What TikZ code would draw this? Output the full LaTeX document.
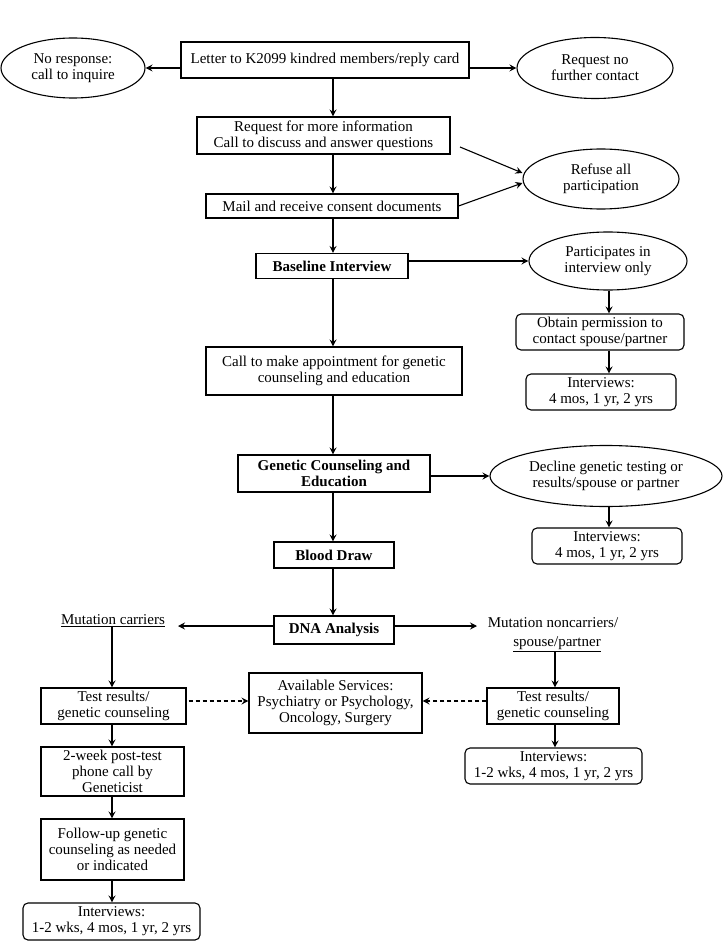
\documentclass[tikz,border=0pt]{standalone}
\usepackage{fontspec}
\setmainfont{Liberation Serif}
\usetikzlibrary{shapes.geometric,arrows.meta}
\begin{document}
\begin{tikzpicture}[x=1pt,y=-1pt,
  every node/.style={font=\fontsize{15}{16}\selectfont, align=center, inner sep=0pt},
  box/.style={draw, line width=1.1pt},
  rbox/.style={draw, line width=1.1pt, rounded corners=5pt},
  oval/.style={draw, ellipse, line width=1.1pt},
  lbl/.style={},
  arr/.style={line width=1.1pt, -{Stealth[length=7pt,width=7pt,inset=2.5pt]}},
  darr/.style={arr, dashed, dash pattern=on 4pt off 3pt}]
\useasboundingbox (0,0) rectangle (724,949);
\coordinate (spine) at (333,0);
\coordinate (leftx) at (112,0);
\coordinate (rightx) at (609,0);
\coordinate (rtx) at (555,0);
% top row
\node[box, minimum width=288pt, minimum height=36pt] (letter) at (325,60) {Letter to K2099 kindred members/reply card};
\node[oval, minimum width=144pt, minimum height=60pt] (noresp) at (73,68) {No response:\\call to inquire};
\node[oval, minimum width=156pt, minimum height=61pt] (nocontact) at (595,68) {Request no\\further contact};
% spine
\node[box, minimum width=253pt, minimum height=37pt] (req) at (323.5,135.5) {Request for more information\\Call to discuss and answer questions};
\node[oval, minimum width=156pt, minimum height=60pt] (refuse) at (601,179) {Refuse all\\participation};
\node[box, minimum width=252pt, minimum height=24pt] (mail) at (332,206) {Mail and receive consent documents};
\node[box, minimum width=152pt, minimum height=25pt, font=\fontsize{15}{16}\selectfont\bfseries] (base) at (332,266) {Baseline Interview};
\node[oval, minimum width=158pt, minimum height=58pt] (partic) at (608,261) {Participates in\\interview only};
\node[rbox, minimum width=168pt, minimum height=36pt] (obtain) at (600,332) {Obtain permission to\\contact spouse/partner};
\node[rbox, minimum width=150pt, minimum height=36pt] (int1) at (601,392) {Interviews:\\4 mos, 1 yr, 2 yrs};
\node[box, minimum width=256pt, minimum height=48pt] (call) at (334,371) {Call to make appointment for genetic\\counseling and education};
\node[box, minimum width=192pt, minimum height=37pt, font=\fontsize{15}{16}\selectfont\bfseries] (gen) at (334,473.5) {Genetic Counseling and\\Education};
\node[oval, minimum width=232pt, minimum height=61pt] (decline) at (606,476) {Decline genetic testing or\\results/spouse or partner};
\node[rbox, minimum width=150pt, minimum height=36pt] (int2) at (607,546) {Interviews:\\4 mos, 1 yr, 2 yrs};
\node[box, minimum width=120pt, minimum height=26pt, font=\fontsize{15}{16}\selectfont\bfseries] (blood) at (334,555) {Blood Draw};
\node[box, minimum width=120pt, minimum height=28pt, font=\fontsize{15}{16}\selectfont\bfseries] (dna) at (334,630) {DNA Analysis};
% branches
\node[lbl] (carriers) at (113,621) {\underline{Mutation carriers}};
\node[lbl] (noncar1) at (553,623) {Mutation noncarriers/};
\node[lbl] (noncar2) at (557,644) {\underline{spouse/partner}};
\node[box, minimum width=145pt, minimum height=36pt] (ltest) at (113.5,706) {Test results/\\genetic counseling};
\node[box, minimum width=173pt, minimum height=60pt] (avail) at (335.5,703) {Available Services:\\Psychiatry or Psychology,\\Oncology, Surgery};
\node[box, minimum width=132pt, minimum height=36pt] (rtest) at (553,706) {Test results/\\genetic counseling};
\node[rbox, minimum width=177pt, minimum height=36pt] (int3) at (553.5,766) {Interviews:\\1-2 wks, 4 mos, 1 yr, 2 yrs};
\node[box, minimum width=143pt, minimum height=49pt] (twoweek) at (112.5,771.5) {2-week post-test\\phone call by\\Geneticist};
\node[box, minimum width=143pt, minimum height=61pt] (follow) at (112.5,849.5) {Follow-up genetic\\counseling as needed\\or indicated};
\node[rbox, minimum width=177pt, minimum height=37pt] (int4) at (111.5,921.5) {Interviews:\\1-2 wks, 4 mos, 1 yr, 2 yrs};
% coordinates for off-anchor ends
\coordinate (reqout) at (460,147);
\coordinate (dnaw) at ([yshift=4pt]dna.west);
\coordinate (dnae) at ([yshift=4pt]dna.east);
\coordinate (carrend) at (178,626);
\coordinate (noncend) at (477,626);
\coordinate (dashy) at (0,701);
% connectors
\draw[arr] (noresp.east -| letter.west) -- (noresp.east);
\draw[arr] (nocontact.west -| letter.east) -- (nocontact.west);
\draw[arr] (letter.south -| spine) -- (req.north -| spine);
\draw[arr] (req.south -| spine) -- (mail.north -| spine);
\draw[arr] (reqout) -- ([yshift=6pt]refuse.west);
\draw[arr] (mail.east) -- ([yshift=-4pt]refuse.west);
\draw[arr] (mail.south -| spine) -- (base.north -| spine);
\draw[arr] (partic.west -| base.east) -- (partic.west);
\draw[arr] (partic.south -| rightx) -- (obtain.north -| rightx);
\draw[arr] (obtain.south -| rightx) -- (int1.north -| rightx);
\draw[arr] (base.south -| spine) -- (call.north -| spine);
\draw[arr] (call.south -| spine) -- (gen.north -| spine);
\draw[arr] (decline.west -| gen.east) -- (decline.west);
\draw[arr] (decline.south -| rightx) -- (int2.north -| rightx);
\draw[arr] (gen.south -| spine) -- (blood.north -| spine);
\draw[arr] (blood.south -| spine) -- (dna.north -| spine);
\draw[arr] (dnaw) -- (carrend);
\draw[arr] (dnae) -- (noncend);
\draw[arr] (carriers.south -| leftx) -- (ltest.north -| leftx);
\draw[arr] (noncar2.south -| rtx) -- (rtest.north -| rtx);
\draw[arr] (rtest.south -| rtx) -- (int3.north -| rtx);
\draw[arr] (ltest.south -| leftx) -- (twoweek.north -| leftx);
\draw[arr] (twoweek.south -| leftx) -- (follow.north -| leftx);
\draw[arr] (follow.south -| leftx) -- (int4.north -| leftx);
\draw[darr] ([xshift=2pt]ltest.east |- dashy) -- (avail.west |- dashy);
\draw[darr] (rtest.west |- dashy) -- (avail.east |- dashy);
\end{tikzpicture}
\end{document}
